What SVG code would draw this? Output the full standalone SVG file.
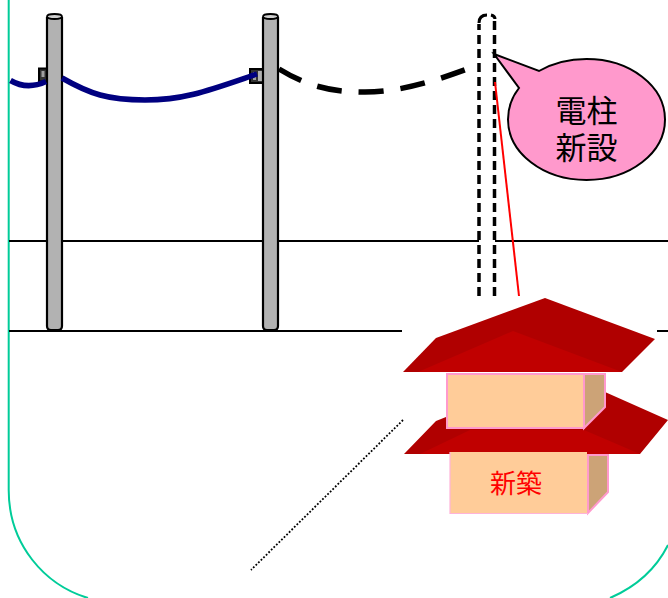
<svg xmlns="http://www.w3.org/2000/svg" width="668" height="598" viewBox="0 0 668 598">
<style>
.jp{font-family:"Noto Sans CJK JP","Liberation Sans",sans-serif;text-anchor:middle}
.pole{fill:#b2b2b2;stroke:#000;stroke-width:2.200}
.cap{fill:#d0d0d0;stroke:#000;stroke-width:1.800}
.gl{stroke:#000;stroke-width:2;fill:none}
.roof{fill:#b00000}
.front{fill:#c00000}
.wall{fill:#ffcc99;stroke:#ff99cc;stroke-width:2}
.side{fill:#cca377;stroke:#ff99cc;stroke-width:2}
.wire{fill:none;stroke:#000080;stroke-width:5.500}
.np{fill:none;stroke:#000;stroke-width:3.500;stroke-dasharray:9 5}
</style>
<rect width="668" height="598" fill="#fff"/>
<g id="frame"><path d="M8.700 0V490C8.700 545 45 585 88 598M610 598C640 585 658 565 668 545" fill="none" stroke="#00cc99" stroke-width="2"/></g>
<g id="ground"><path class="gl" d="M9 241H479M495 241H668M9 331H402M657 331H668"/></g>
<g id="pole1"><rect x="39" y="68.500" width="9" height="13" fill="#333" stroke="#000" stroke-width="2"/><rect x="41.500" y="71" width="3" height="6" fill="#a0a0a0"/><path class="pole" d="M47 18V326Q47 330 51 330H58Q62 330 62 326V18Z"/><ellipse class="cap" cx="54.500" cy="16.500" rx="7.500" ry="2.500"/></g>
<g id="pole2"><rect x="250" y="69" width="13" height="14" fill="#333" stroke="#000" stroke-width="2"/><rect x="253" y="72" width="3" height="8" fill="#a0a0a0"/><rect x="258" y="71" width="4" height="10" fill="#b2b2b2"/><path class="pole" d="M263 18V326Q263 330 267 330H274Q278 330 278 326V18Z"/><ellipse class="cap" cx="270.500" cy="16.500" rx="7.500" ry="2.500"/></g>
<g id="new-pole"><path class="np" d="M479 296V24"/><path class="np" d="M494.500 296V20"/>
<path d="M479 23Q479 15 487 15M491 15Q495 16 495 19" fill="none" stroke="#000" stroke-width="3"/></g>
<g id="connectors">
<path class="wire" d="M10.500 80.500C20 86 32 88 46 81.500"/>
<path class="wire" d="M62 78C90 94 108 100 145 100C185 100 210 90 257 74"/>
<path d="M279 69C310 88 335 92 365 92C400 92 435 81 470 68" fill="none" stroke="#000" stroke-width="5.500" stroke-dasharray="25 17"/>
<line x1="495" y1="82" x2="519" y2="296" stroke="#f00" stroke-width="2"/>
<line x1="403" y1="420" x2="251" y2="570" stroke="#000" stroke-width="1.800" stroke-dasharray="1.800 1.800"/>
</g>
<g id="callout"><path d="M494 54L539 71C553 63 569 59 586.500 59C630 59 665 86 665 119.500C665 153 630 180 586.500 180C543 180 508 153 508 119.500C508 107 512 97 519 88Z" fill="#ff99cc" stroke="#000" stroke-width="2"/>
<text class="jp" font-size="31" fill="#000"><tspan x="586.500" y="122">電柱</tspan><tspan x="586.500" y="159">新設</tspan></text></g>
<g id="house">
<path class="roof" d="M404 454L436 421L446 417H584L605 392L668 420L640 454Z"/>
<path class="front" d="M420 454L470 430H584L640 454Z"/>
<path class="side" d="M584 374H605V407L584 428Z"/>
<rect class="wall" x="447" y="374" width="137" height="54"/>
<path class="roof" d="M403 372L436 338L545 298L655 339L622 372Z"/>
<path class="front" d="M418 372L513 331L622 372Z"/>
<path class="side" d="M588 455H608V492L588 513Z" stroke-width="1.500"/>
<path d="M450 452H587V513H450Z" fill="#ffcc99"/>
<path d="M450 452V513.500H588" fill="none" stroke="#ffb3d9" stroke-width="1.200"/>
<text class="jp" x="516" y="493" font-size="26" fill="#f00">新築</text>
</g>
</svg>
